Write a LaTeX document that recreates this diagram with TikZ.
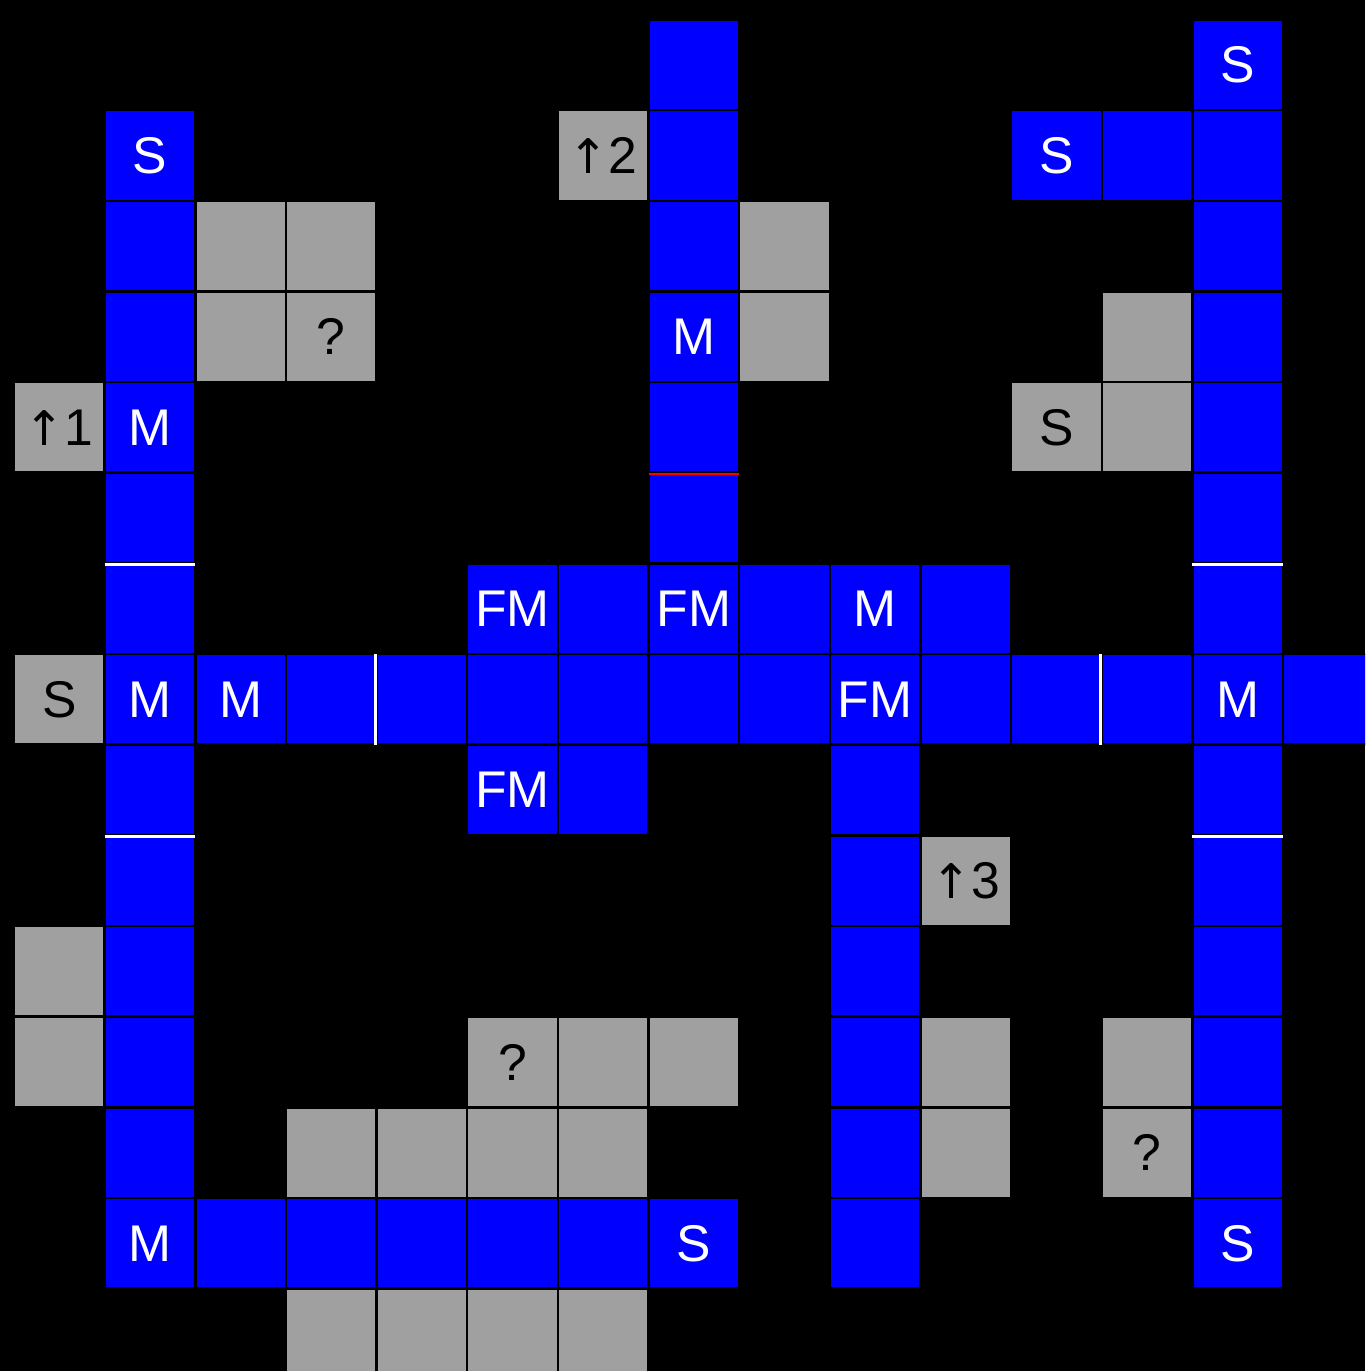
\documentclass[tikz,border=0pt]{standalone}
\usepackage{fontspec}
\setmainfont{Liberation Sans}
\newfontfamily\arrowfont{DejaVu Sans}
\usepackage{tikz}
\usetikzlibrary{positioning}
\definecolor{cellblue}{RGB}{0,0,255}
\definecolor{cellgray}{RGB}{160,160,160}
\newcommand{\uparr}{{\arrowfont\fontsize{15pt}{18pt}\selectfont ↑}}
\tikzset{
  cell/.style={draw=black, line width=0.8pt, minimum width=1cm, minimum height=1cm,
    inner sep=0pt, font=\fontsize{16.2pt}{18pt}\selectfont},
  bluecell/.style={cell, fill=cellblue, text=white},
  graycell/.style={cell, fill=cellgray, text=black},
  whitebar/.style={draw=white, line width=0.8pt, shorten <=0.4pt, shorten >=0.4pt},
  redbar/.style={draw=red, line width=0.8pt, shorten <=0.4pt, shorten >=0.4pt}
}

\begin{document}
\begin{tikzpicture}
\useasboundingbox (-0.154,0.215) rectangle (14.904,-14.909);
\clip (-0.154,0.215) rectangle (14.904,-14.909);
\fill[black] (-0.154,0.215) rectangle (14.904,-14.909);

\node[bluecell] (r0c7) at (7.5,-0.5) {};
\node[bluecell] (r0c13) at (13.5,-0.5) {S};

\node[bluecell] (r1c1) at (1.5,-1.5) {S};
\node[graycell] (r1c6) at (6.5,-1.5) {\uparr2};
\node[bluecell] (r1c7) at (7.5,-1.5) {};
\node[bluecell] (r1c11) at (11.5,-1.5) {S};
\node[bluecell] (r1c12) at (12.5,-1.5) {};
\node[bluecell] (r1c13) at (13.5,-1.5) {};

\node[bluecell] (r2c1) at (1.5,-2.5) {};
\node[graycell] (r2c2) at (2.5,-2.5) {};
\node[graycell] (r2c3) at (3.5,-2.5) {};
\node[bluecell] (r2c7) at (7.5,-2.5) {};
\node[graycell] (r2c8) at (8.5,-2.5) {};
\node[bluecell] (r2c13) at (13.5,-2.5) {};

\node[bluecell] (r3c1) at (1.5,-3.5) {};
\node[graycell] (r3c2) at (2.5,-3.5) {};
\node[graycell] (r3c3) at (3.5,-3.5) {?};
\node[bluecell] (r3c7) at (7.5,-3.5) {M};
\node[graycell] (r3c8) at (8.5,-3.5) {};
\node[graycell] (r3c12) at (12.5,-3.5) {};
\node[bluecell] (r3c13) at (13.5,-3.5) {};

\node[graycell] (r4c0) at (0.5,-4.5) {\uparr1};
\node[bluecell] (r4c1) at (1.5,-4.5) {M};
\node[bluecell] (r4c7) at (7.5,-4.5) {};
\node[graycell] (r4c11) at (11.5,-4.5) {S};
\node[graycell] (r4c12) at (12.5,-4.5) {};
\node[bluecell] (r4c13) at (13.5,-4.5) {};

\node[bluecell] (r5c1) at (1.5,-5.5) {};
\node[bluecell] (r5c7) at (7.5,-5.5) {};
\node[bluecell] (r5c13) at (13.5,-5.5) {};

\node[bluecell] (r6c1) at (1.5,-6.5) {};
\node[bluecell] (r6c5) at (5.5,-6.5) {FM};
\node[bluecell] (r6c6) at (6.5,-6.5) {};
\node[bluecell] (r6c7) at (7.5,-6.5) {FM};
\node[bluecell] (r6c8) at (8.5,-6.5) {};
\node[bluecell] (r6c9) at (9.5,-6.5) {M};
\node[bluecell] (r6c10) at (10.5,-6.5) {};
\node[bluecell] (r6c13) at (13.5,-6.5) {};

\node[graycell] (r7c0) at (0.5,-7.5) {S};
\node[bluecell] (r7c1) at (1.5,-7.5) {M};
\node[bluecell] (r7c2) at (2.5,-7.5) {M};
\node[bluecell] (r7c3) at (3.5,-7.5) {};
\node[bluecell] (r7c4) at (4.5,-7.5) {};
\node[bluecell] (r7c5) at (5.5,-7.5) {};
\node[bluecell] (r7c6) at (6.5,-7.5) {};
\node[bluecell] (r7c7) at (7.5,-7.5) {};
\node[bluecell] (r7c8) at (8.5,-7.5) {};
\node[bluecell] (r7c9) at (9.5,-7.5) {FM};
\node[bluecell] (r7c10) at (10.5,-7.5) {};
\node[bluecell] (r7c11) at (11.5,-7.5) {};
\node[bluecell] (r7c12) at (12.5,-7.5) {};
\node[bluecell] (r7c13) at (13.5,-7.5) {M};
\node[bluecell] (r7c14) at (14.5,-7.5) {};

\node[bluecell] (r8c1) at (1.5,-8.5) {};
\node[bluecell] (r8c5) at (5.5,-8.5) {FM};
\node[bluecell] (r8c6) at (6.5,-8.5) {};
\node[bluecell] (r8c9) at (9.5,-8.5) {};
\node[bluecell] (r8c13) at (13.5,-8.5) {};

\node[bluecell] (r9c1) at (1.5,-9.5) {};
\node[bluecell] (r9c9) at (9.5,-9.5) {};
\node[graycell] (r9c10) at (10.5,-9.5) {\uparr3};
\node[bluecell] (r9c13) at (13.5,-9.5) {};

\node[graycell] (r10c0) at (0.5,-10.5) {};
\node[bluecell] (r10c1) at (1.5,-10.5) {};
\node[bluecell] (r10c9) at (9.5,-10.5) {};
\node[bluecell] (r10c13) at (13.5,-10.5) {};

\node[graycell] (r11c0) at (0.5,-11.5) {};
\node[bluecell] (r11c1) at (1.5,-11.5) {};
\node[graycell] (r11c5) at (5.5,-11.5) {?};
\node[graycell] (r11c6) at (6.5,-11.5) {};
\node[graycell] (r11c7) at (7.5,-11.5) {};
\node[bluecell] (r11c9) at (9.5,-11.5) {};
\node[graycell] (r11c10) at (10.5,-11.5) {};
\node[graycell] (r11c12) at (12.5,-11.5) {};
\node[bluecell] (r11c13) at (13.5,-11.5) {};

\node[bluecell] (r12c1) at (1.5,-12.5) {};
\node[graycell] (r12c3) at (3.5,-12.5) {};
\node[graycell] (r12c4) at (4.5,-12.5) {};
\node[graycell] (r12c5) at (5.5,-12.5) {};
\node[graycell] (r12c6) at (6.5,-12.5) {};
\node[bluecell] (r12c9) at (9.5,-12.5) {};
\node[graycell] (r12c10) at (10.5,-12.5) {};
\node[graycell] (r12c12) at (12.5,-12.5) {?};
\node[bluecell] (r12c13) at (13.5,-12.5) {};

\node[bluecell] (r13c1) at (1.5,-13.5) {M};
\node[bluecell] (r13c2) at (2.5,-13.5) {};
\node[bluecell] (r13c3) at (3.5,-13.5) {};
\node[bluecell] (r13c4) at (4.5,-13.5) {};
\node[bluecell] (r13c5) at (5.5,-13.5) {};
\node[bluecell] (r13c6) at (6.5,-13.5) {};
\node[bluecell] (r13c7) at (7.5,-13.5) {S};
\node[bluecell] (r13c9) at (9.5,-13.5) {};
\node[bluecell] (r13c13) at (13.5,-13.5) {S};

\node[graycell] (r14c3) at (3.5,-14.5) {};
\node[graycell] (r14c4) at (4.5,-14.5) {};
\node[graycell] (r14c5) at (5.5,-14.5) {};
\node[graycell] (r14c6) at (6.5,-14.5) {};

\draw[whitebar] (r5c1.south west) -- (r5c1.south east);
\draw[whitebar] (r8c1.south west) -- (r8c1.south east);
\draw[whitebar] (r5c13.south west) -- (r5c13.south east);
\draw[whitebar] (r8c13.south west) -- (r8c13.south east);
\draw[whitebar] (r7c4.south west) -- (r7c4.north west);
\draw[whitebar] (r7c12.south west) -- (r7c12.north west);
\draw[redbar] (r4c7.south west) -- (r4c7.south east);
\end{tikzpicture}
\end{document}
